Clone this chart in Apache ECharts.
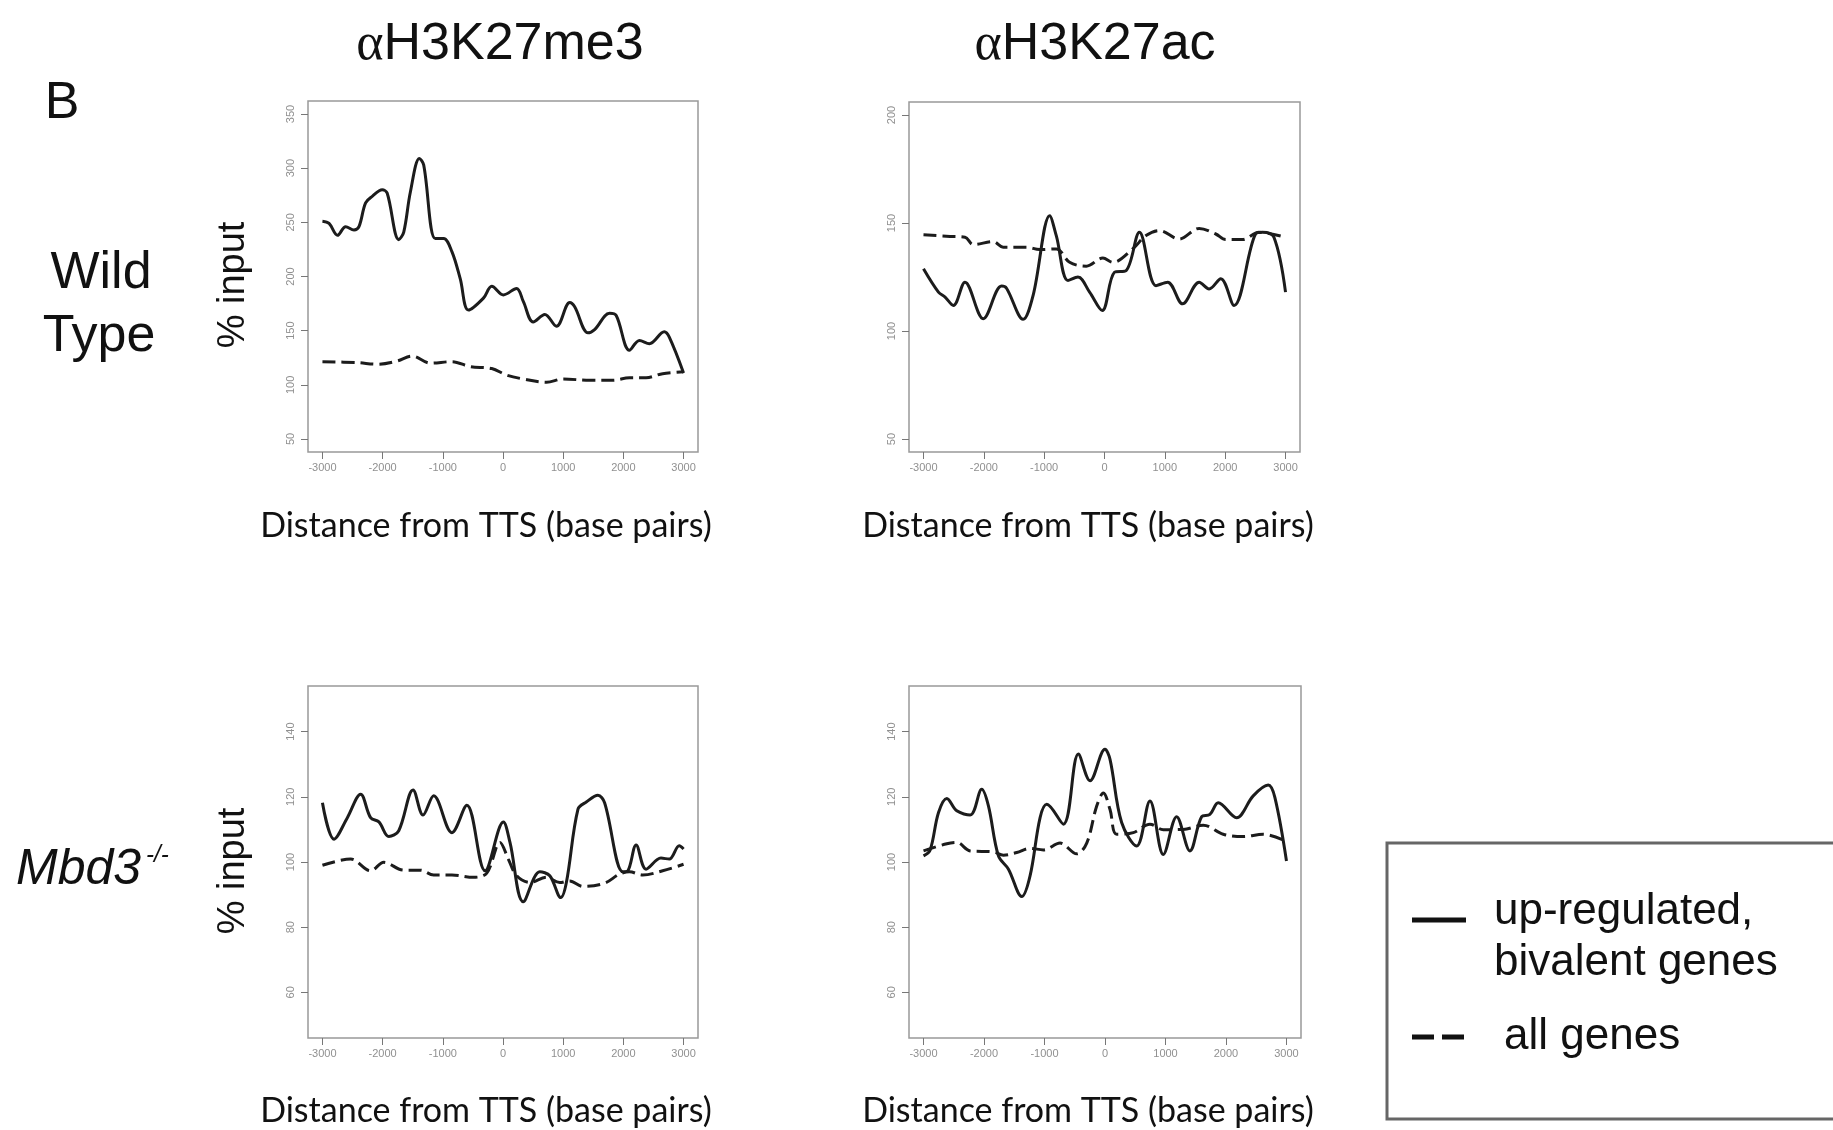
<!DOCTYPE html>
<html>
<head>
<meta charset="utf-8">
<title>H3K27me3 / H3K27ac around TTS</title>
<script src="https://cdn.jsdelivr.net/npm/echarts@6/dist/echarts.min.js"></script>
<style>
  html, body { margin: 0; padding: 0; background: #fff; }
  #main { width: 1833px; height: 1130px; }
</style>
</head>
<body>
<div id="main"></div>
<script type="text/javascript">

// tick labels
var xTicks = [-3000, -2000, -1000, 0, 1000, 2000, 3000];
var yTicksWtMe3 = [50, 100, 150, 200, 250, 300, 350];
var yTicksWtAc = [50, 100, 150, 200];
var yTicksMbd3 = [60, 80, 100, 120, 140];

// [distance from TTS (bp), % input]
// wild type, H3K27me3
var wtMe3Up = [[-3000,251],[-2890,249],[-2750,238],[-2614,246],[-2476,243],[-2393,246],[-2283,268],[-2173,274],
  [-2007,280],[-1925,277],[-1732,234],[-1649,241],[-1539,278],[-1390,309],[-1318,303],[-1125,235],[-987,235],
  [-849,223],[-711,198],[-573,169],[-325,180],[-187,191],[6,183],[226,189],[337,177],[502,158],[695,165],
  [888,154],[1109,176],[1191,172],[1412,148],[1522,151],[1770,166],[1881,164],[2101,132],[2267,141],
  [2432,138],[2680,149],[2763,144],[3000,111]];
var wtMe3All = [[-3000,121.4],[-2421,120.5],[-2090,119],[-1759,122],[-1511,126.6],[-1208,120],[-849,121.4],
  [-546,116.8],[-187,115],[61,109],[337,105.4],[723,102.3],[998,105.4],[1440,104.2],[1826,104.2],
  [2101,106.6],[2377,106.6],[2653,110.3],[3000,112]];

// wild type, H3K27ac
var wtAcUp = [[-3000,128.8],[-2752,118],[-2642,115.7],[-2505,111.8],[-2312,122.6],[-2009,105.7],[-1706,120.8],
  [-1624,119.8],[-1349,105.4],[-1183,116.5],[-908,153.4],[-798,144],[-605,123.4],[-440,125],[-247,118],
  [-38,109.5],[165,127.2],[358,128],[578,145.7],[853,121],[1046,122.6],[1294,112.6],[1569,122.6],
  [1734,119.5],[1927,124.2],[2147,111.8],[2505,145],[2615,145.7],[2808,143.4],[3000,118]];
var wtAcAll = [[-3000,144.5],[-2560,143.8],[-2312,143.4],[-2174,140],[-1844,141.4],[-1679,138.8],[-1294,138.8],
  [-1073,137.7],[-798,138],[-578,131.8],[-302,130],[-27,133.8],[138,131.8],[468,138],[688,144.2],
  [909,146.5],[1239,142.6],[1569,147.5],[1844,144.9],[2010,142.3],[2285,142.3],[2560,145.7],[3000,143.4]];

// Mbd3-/-, H3K27me3
var koMe3Up = [[-3000,118.2],[-2807,107],[-2586,113.6],[-2366,120.8],[-2200,113.6],[-2062,112.3],[-1897,107.8],
  [-1732,109.6],[-1494,122.1],[-1329,114.4],[-1152,120.3],[-849,109],[-601,117.4],[-298,97.3],[6,112.3],
  [116,106],[337,87.8],[612,97],[778,95.8],[960,89.1],[1053,93.7],[1246,116.2],[1384,118.4],[1577,120.5],
  [1688,118.2],[1991,97],[2074,97.3],[2212,105.2],[2377,97.8],[2625,101.2],[2763,100.9],[2929,105],[3000,104]];
var koMe3All = [[-3000,99],[-2531,100.9],[-2200,97.3],[-1980,99.9],[-1649,97.5],[-1373,97.5],[-1152,96],
  [-849,96],[-491,95.3],[-270,96.6],[-49,106],[88,100.9],[226,95.8],[447,93.7],[723,95.3],[943,93.7],
  [1109,94.2],[1329,92.5],[1688,93.5],[1936,96.3],[2101,97],[2322,96],[2653,97.3],[3000,99.3]];

// Mbd3-/-, H3K27ac
var koAcUp = [[-3000,101.9],[-2890,103.7],[-2752,115.2],[-2615,119.5],[-2450,115.7],[-2229,114.4],[-2037,122.3],
  [-1927,117.2],[-1762,101.9],[-1596,97.8],[-1376,89.4],[-1238,95.8],[-1073,113.6],[-963,117.7],[-688,111.6],
  [-440,133.1],[-247,124.9],[0,134.6],[83,131.5],[275,112.1],[523,104.9],[743,118.7],[964,102.3],
  [1184,113.9],[1404,103.4],[1597,113.9],[1734,114.6],[1872,118.2],[2175,113.6],[2450,120.3],[2698,123.6],
  [2808,119.8],[3000,100.3]];
var koAcAll = [[-3000,103.4],[-2615,105.6],[-2450,106],[-2229,103.4],[-1844,103.1],[-1679,102.1],[-1459,102.9],
  [-1238,104.2],[-1018,103.7],[-743,105.8],[-468,102.5],[-302,105.8],[-137,117.2],[-27,121.2],[83,116.1],
  [193,108.5],[468,109],[743,111.6],[964,109.9],[1294,110],[1624,111.3],[1954,108.5],[2285,107.8],
  [2615,108.5],[3000,106.3]];

var myChart = echarts.init(document.getElementById('main'));

var panels = [
  { box: [308, 101, 390, 351], yMin: 38, yMax: 362, yTicks: yTicksWtMe3, up: wtMe3Up, all: wtMe3All },
  { box: [909, 102, 391, 350], yMin: 44, yMax: 206, yTicks: yTicksWtAc, up: wtAcUp, all: wtAcAll },
  { box: [308, 686, 390, 352], yMin: 46, yMax: 154, yTicks: yTicksMbd3, up: koMe3Up, all: koMe3All },
  { box: [909, 686, 392, 352], yMin: 46, yMax: 154, yTicks: yTicksMbd3, up: koAcUp, all: koAcAll }
];

var grids = [], xAxes = [], yAxes = [], series = [];
var tickStyle = { color: '#777', width: 1 };
var labelStyle = { color: '#909090', fontSize: 11, fontFamily: 'Liberation Sans' };

panels.forEach(function (p, i) {
  grids.push({
    left: p.box[0], top: p.box[1], width: p.box[2], height: p.box[3],
    show: true, borderColor: '#999', borderWidth: 1.5, backgroundColor: 'transparent'
  });
  xAxes.push({
    type: 'value', gridIndex: i, min: -3240, max: 3240, position: 'bottom',
    axisLine: { show: false, onZero: false },
    splitLine: { show: false },
    axisTick: { show: true, customValues: xTicks, length: 7, lineStyle: tickStyle },
    axisLabel: Object.assign({ customValues: xTicks, margin: 10,
      formatter: function (v) { return String(v); } }, labelStyle)
  });
  yAxes.push({
    type: 'value', gridIndex: i, min: p.yMin, max: p.yMax, position: 'left',
    axisLine: { show: false, onZero: false },
    splitLine: { show: false },
    axisTick: { show: true, customValues: p.yTicks, length: 7, lineStyle: tickStyle },
    axisLabel: Object.assign({ customValues: p.yTicks, margin: 12, rotate: 90,
      formatter: function (v) { return String(v); } }, labelStyle)
  });
  series.push({
    name: 'up-regulated, bivalent genes', type: 'line', xAxisIndex: i, yAxisIndex: i,
    data: p.up, symbol: 'none', smooth: 0.35,
    lineStyle: { color: '#1c1c1c', width: 3 }
  });
  series.push({
    name: 'all genes', type: 'line', xAxisIndex: i, yAxisIndex: i,
    data: p.all, symbol: 'none', smooth: 0.35,
    lineStyle: { color: '#1c1c1c', width: 3, type: [13, 6] }
  });
});

var sans = 'Liberation Sans, Arial, sans-serif';
function txt(x, y, s, size, extra) {
  return Object.assign({
    type: 'text', x: x, y: y,
    style: { text: s, font: size + 'px ' + sans, fill: '#111', textAlign: 'center', textVerticalAlign: 'middle' }
  }, extra || {});
}
function title(x, s) {
  return {
    type: 'text', x: x, y: 45,
    style: {
      text: '{a|α}{b|' + s + '}', textAlign: 'center', textVerticalAlign: 'middle',
      rich: {
        a: { font: '52px Liberation Serif', fill: '#111' },
        b: { font: '52px ' + sans, fill: '#111' }
      }
    }
  };
}
function xlab(x, y) {
  return { type: 'text', x: x, y: y, style: { text: 'Distance from TTS (base pairs)', font: '34px Lato',
    fill: '#111', textAlign: 'center', textVerticalAlign: 'middle' } };
}

var graphic = [
  txt(62, 104, 'B', 52),
  title(500, 'H3K27me3'),
  title(1095, 'H3K27ac'),
  txt(101, 274, 'Wild', 52),
  txt(99, 337, 'Type', 52),
  { type: 'text', x: 16, y: 870, style: { text: 'Mbd3', font: 'italic 50px ' + sans, fill: '#111',
    textAlign: 'left', textVerticalAlign: 'middle' } },
  { type: 'text', x: 146, y: 855, style: { text: '-/-', font: 'italic 24px ' + sans, fill: '#111',
    textAlign: 'left', textVerticalAlign: 'middle' } },
  txt(234, 285, '% input', 38, { rotation: Math.PI / 2 }),
  txt(234, 871, '% input', 38, { rotation: Math.PI / 2 }),
  xlab(486, 526), xlab(1088, 526), xlab(486, 1111), xlab(1088, 1111),
  // legend box
  { type: 'rect', shape: { x: 1387, y: 843, width: 470, height: 276 },
    style: { fill: '#fff', stroke: '#666', lineWidth: 3 } },
  { type: 'line', shape: { x1: 1412, y1: 920, x2: 1466, y2: 920 },
    style: { stroke: '#111', lineWidth: 5 } },
  { type: 'line', shape: { x1: 1412, y1: 1037, x2: 1464, y2: 1037 },
    style: { stroke: '#111', lineWidth: 5, lineDash: [22, 8] } },
  { type: 'text', x: 1494, y: 912, style: { text: 'up-regulated,', font: '44px ' + sans, fill: '#111', textAlign: 'left', textVerticalAlign: 'middle' } },
  { type: 'text', x: 1494, y: 963, style: { text: 'bivalent genes', font: '44px ' + sans, fill: '#111', textAlign: 'left', textVerticalAlign: 'middle' } },
  { type: 'text', x: 1504, y: 1037, style: { text: 'all genes', font: '44px ' + sans, fill: '#111', textAlign: 'left', textVerticalAlign: 'middle' } }
];

var option = {
  animation: false,
  backgroundColor: '#fff',
  grid: grids,
  xAxis: xAxes,
  yAxis: yAxes,
  series: series,
  graphic: graphic
};

myChart.setOption(option);
</script>
</body>
</html>
